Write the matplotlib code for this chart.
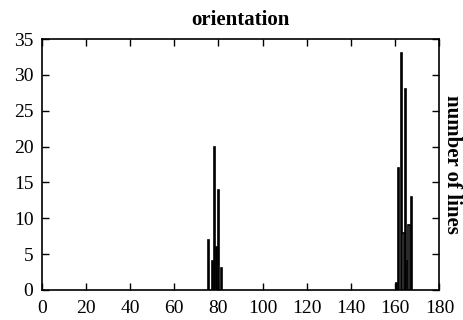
import matplotlib
matplotlib.use("Agg")
import matplotlib.pyplot as plt

plt.rcParams['font.family'] = ['Liberation Serif', 'DejaVu Serif']

# orientation values (degrees) and number of lines at each
angles = [75.5, 77.3, 78.2, 79.1, 80.0, 81.4,
          160.6, 161.4, 162.9, 163.5, 164.8, 165.8, 166.3, 167.3]
counts = [7, 4, 20, 6, 14, 3,
          1, 17, 33, 8, 28, 4, 9, 13]

xticks = list(range(0, 181, 20))
yticks = list(range(0, 36, 5))

fig = plt.figure(figsize=(4.64, 3.2), dpi=100)
ax = fig.add_axes([0.090, 0.094, 0.857, 0.784])

ax.bar(angles, counts, width=0.6, color="white", edgecolor="black", linewidth=1.2)

ax.set_xlim(0, 180)
ax.set_ylim(0, 35)
ax.set_xticks(xticks)
ax.set_yticks(yticks)
ax.tick_params(direction="in", length=5, width=1, top=True, right=True,
               labelsize=14)
ax.tick_params(axis="x", pad=7)
ax.tick_params(axis="y", pad=6)
for s in ax.spines.values():
    s.set_linewidth(1.2)

ax.set_title("orientation", fontsize=15, fontweight="bold", pad=10)
ax.yaxis.set_label_position("right")
ax.set_ylabel("number of lines", fontsize=15, fontweight="bold",
              rotation=-90, labelpad=16)

fig.savefig("out.png", dpi=100)
